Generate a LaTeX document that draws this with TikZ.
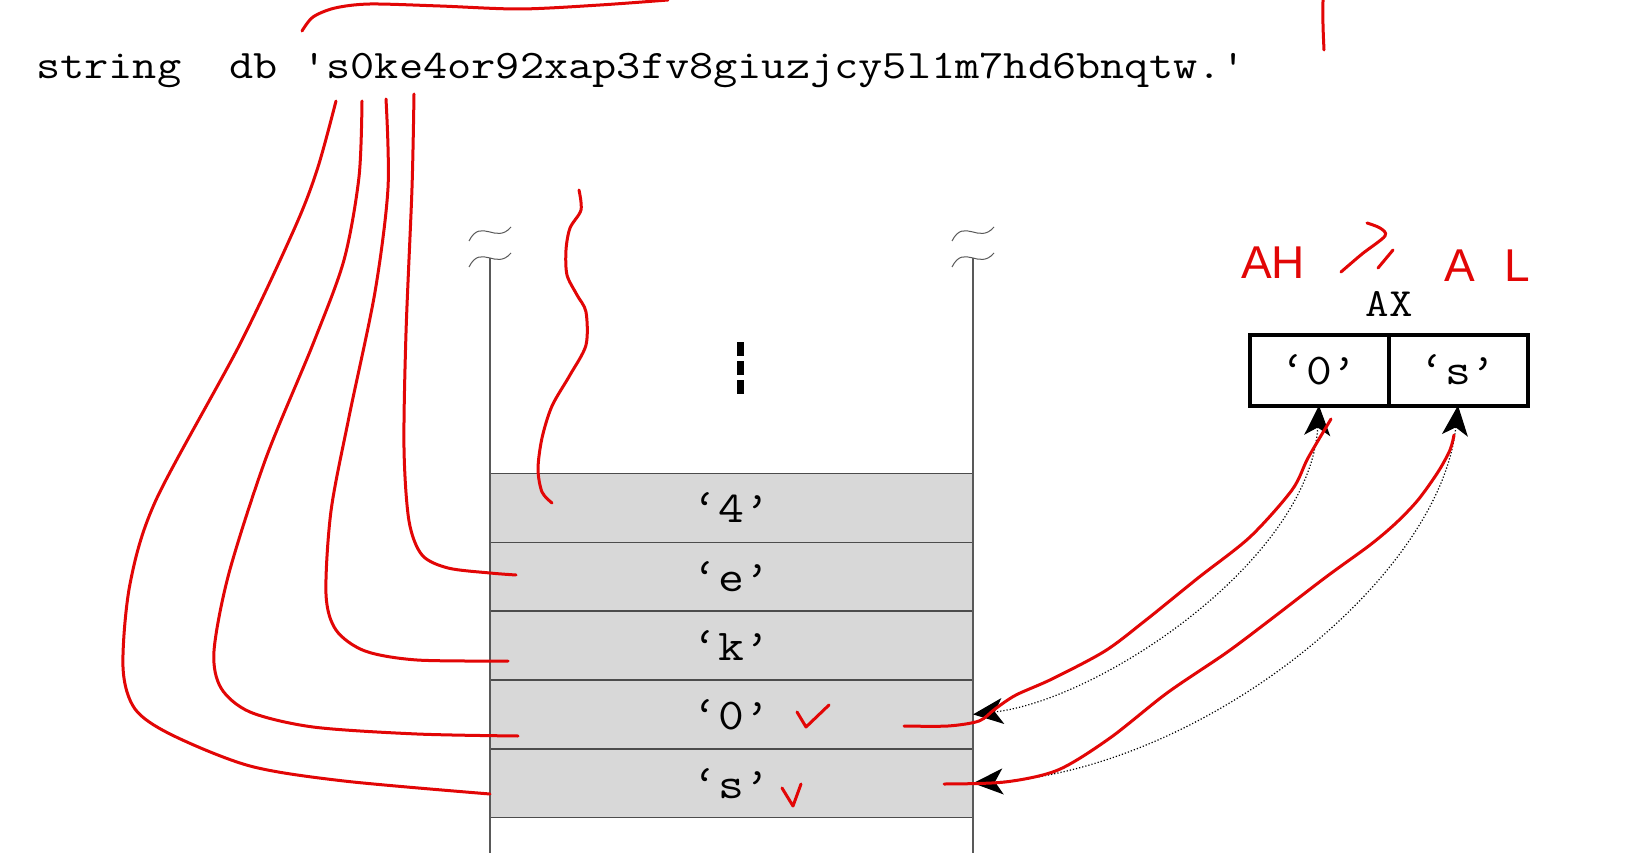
\documentclass[tikz,border=0pt]{standalone}
\usepackage{fontspec}
\usepackage{graphicx}
\usetikzlibrary{arrows.meta,positioning}
\setsansfont{Liberation Sans}
\definecolor{pen}{RGB}{226,6,6}
\definecolor{cellgray}{RGB}{216,216,216}
\newcommand{\wide}[1]{\scalebox{1.14}[1]{#1}}

\begin{document}
\begin{tikzpicture}[x=1pt, y=-1pt, node distance=68.8pt]
  \tikzstyle{cell} = [rectangle, draw=black!70, line width=1.5pt, fill=cellgray,
    minimum width=483pt, minimum height=68.8pt, inner sep=0pt, outer sep=0pt,
    font=\ttfamily\fontsize{44}{44}\selectfont]
  \tikzstyle{reg} = [rectangle, draw, line width=4pt, minimum width=139pt,
    minimum height=71pt, inner sep=0pt, outer sep=0pt,
    font=\ttfamily\fontsize{44}{44}\selectfont]
  \tikzstyle{wall} = [draw=black!65, line width=1.5pt]
  \tikzstyle{ptr} = [dotted, line width=1.2pt,
    {Stealth[length=30pt,width=26pt,inset=8pt]}-{Stealth[length=30pt,width=26pt,inset=8pt]}]
  \tikzstyle{ink} = [draw=pen, line width=3pt, line cap=round, line join=round]

  \useasboundingbox (0,0) rectangle (1634,853);
  \fill[white] (0,0) rectangle (1634,853);

  % source line
  \node[anchor=base west, inner sep=0pt, font=\ttfamily\fontsize{40.5}{40.5}\selectfont]
    (src) at (36,79) {\scalebox{1.16}[1]{string\ \ db 's0ke4or92xap3fv8giuzjcy5l1m7hd6bnqtw.'}};

  % stack cells
  \node[cell] (c4) at (731.5,508) {\wide{‘4’}};
  \node[cell, below of=c4] (ce) {\wide{‘e’}};
  \node[cell, below of=ce] (ck) {\wide{‘k’}};
  \node[cell, below of=ck] (c0) {\wide{‘0’}};
  \node[cell, below of=c0] (cs) {\wide{‘s’}};

  % stack walls with break marks
  \draw[wall] (490,258) -- (490,853);
  \draw[wall] (973,258) -- (973,853);
  \foreach \wx in {490,973}
    \foreach \wy in {233,259}
      \draw[draw=black!65, line width=1pt] (\wx-21,\wy+8) .. controls (\wx-9,\wy-16) and (\wx+6,\wy+12) .. (\wx+21,\wy-6);
  \foreach \dy in {342,361,380}
    \fill (736.5,\dy) rectangle +(7,14);

  % register AX
  \node[reg] (ah) at (1319,370) {\wide{‘0’}};
  \node[reg, node distance=139pt, right of=ah] (al) {\wide{‘s’}};
  \node[font=\ttfamily\fontsize{40}{40}\selectfont] (axlbl) at (1389,304) {\wide{AX}};

  \draw[ptr] (ah.south) .. controls (1310,560) and (1100,700) .. (c0.east);
  \draw[ptr] (al.south) .. controls (1440,580) and (1200,770) .. (cs.east);

  % pen notes
  \node[anchor=base west, inner sep=0pt, text=pen, font=\sffamily\fontsize{46}{46}\selectfont]
    (ahnote) at (1241,279) {AH};
  \node[anchor=base west, inner sep=0pt, text=pen, font=\sffamily\fontsize{46}{46}\selectfont]
    (alnote) at (1444,282) {A\hspace{30pt}L};
  \draw[ink] plot[smooth] coordinates {(1367,223) (1380,228) (1385,236) (1362,254) (1341,272)};
  \draw[ink] (1378,268) -- (1393,250);

  \draw[ink] plot[smooth] coordinates {(302,31) (313,17) (335,8) (370,4) (440,6) (520,9) (600,5) (668,0)};
  \draw[ink] plot[smooth] coordinates {(1323,0) (1323,25) (1324,50)};
  \draw[ink] plot[smooth] coordinates {(336,101) (318,167) (296,225) (240,344) (156,500) (130,584) (123,667) (135,709) (172,735) (250,766) (344,781) (490,794)};
  \draw[ink] plot[smooth] coordinates {(362,101) (359,177) (344,260) (313,344) (266,458) (229,573) (214,651) (221,688) (250,712) (313,727) (417,734) (518,736)};
  \draw[ink] plot[smooth] coordinates {(386,99) (388,188) (375,292) (349,417) (331,511) (326,594) (336,630) (365,651) (417,660) (508,661)};
  \draw[ink] plot[smooth] coordinates {(414,94) (412,188) (406,333) (404,448) (409,521) (422,555) (448,568) (490,573) (516,575)};
  \draw[ink] plot[smooth] coordinates {(579,190) (581,210) (570,228) (566,250) (567,275) (577,295) (586,312) (586,345) (570,375) (552,406) (542,438) (538,469) (542,492) (552,503)};
  \draw[ink] (797,712) -- (806,727) -- (829,705);
  \draw[ink] (782,788) -- (793,806) -- (801,784);
  \draw[ink] plot[smooth] coordinates {(1331,419) (1308,458) (1292,490) (1250,537) (1198,578) (1146,620) (1105,651) (1052,679) (1016,695) (995,709) (979,721) (948,726) (904,726)};
  \draw[ink] plot[smooth] coordinates {(1454,435) (1450,450) (1438,472) (1418,500) (1396,523) (1370,545) (1326,577) (1270,620) (1226,653) (1167,693) (1110,738) (1058,770) (1005,782) (944,784)};
\end{tikzpicture}
\end{document}
